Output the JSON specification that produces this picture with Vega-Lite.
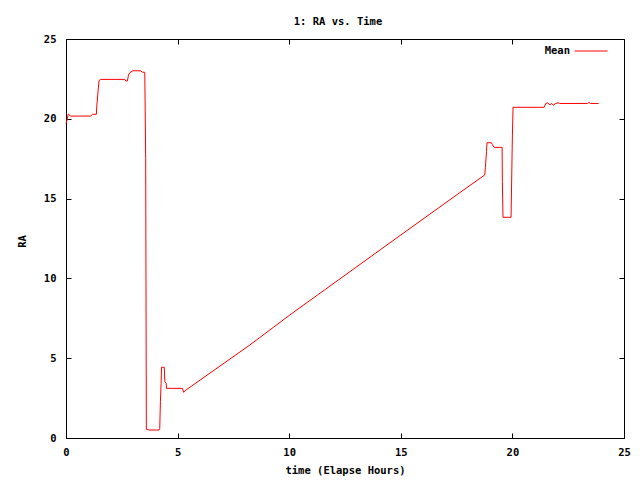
{
  "$schema": "https://vega.github.io/schema/vega-lite/v6.json",
  "width": 558,
  "height": 399,
  "autosize": {"type": "none"},
  "padding": {"left": 66, "top": 39, "right": 16, "bottom": 42},
  "background": "white",
  "title": {"text": "1: RA vs. Time", "font": "DejaVu Sans Mono", "fontSize": 10.5, "fontWeight": "bold", "color": "black", "anchor": "middle", "offset": 7, "dx": -7},
  "config": {
    "view": {"stroke": "black", "strokeWidth": 1},
    "axis": {"grid": false, "domain": false, "tickColor": "black", "labelColor": "black", "titleColor": "black", "labelFont": "DejaVu Sans Mono", "titleFont": "DejaVu Sans Mono", "labelFontSize": 10.5, "titleFontSize": 10.5, "labelFontWeight": "bold", "titleFontWeight": "bold", "tickSize": 5, "offset": -5},
    "legend": {"labelFont": "DejaVu Sans Mono", "labelFontSize": 10.5, "labelFontWeight": "bold", "labelColor": "black"}
  },
  "data": {"values": [
    {"t": 0, "ra": 19.7, "series": "Mean"},
    {"t": 0.06, "ra": 20.0, "series": "Mean"},
    {"t": 0.1, "ra": 20.3, "series": "Mean"},
    {"t": 0.21, "ra": 20.17, "series": "Mean"},
    {"t": 1.1, "ra": 20.17, "series": "Mean"},
    {"t": 1.18, "ra": 20.28, "series": "Mean"},
    {"t": 1.36, "ra": 20.28, "series": "Mean"},
    {"t": 1.38, "ra": 20.8, "series": "Mean"},
    {"t": 1.44, "ra": 21.8, "series": "Mean"},
    {"t": 1.48, "ra": 22.39, "series": "Mean"},
    {"t": 1.56, "ra": 22.47, "series": "Mean"},
    {"t": 2.63, "ra": 22.47, "series": "Mean"},
    {"t": 2.68, "ra": 22.37, "series": "Mean"},
    {"t": 2.75, "ra": 22.37, "series": "Mean"},
    {"t": 2.8, "ra": 22.74, "series": "Mean"},
    {"t": 2.86, "ra": 22.89, "series": "Mean"},
    {"t": 3.0, "ra": 23.01, "series": "Mean"},
    {"t": 3.35, "ra": 23.01, "series": "Mean"},
    {"t": 3.4, "ra": 22.93, "series": "Mean"},
    {"t": 3.53, "ra": 22.91, "series": "Mean"},
    {"t": 3.57, "ra": 17.5, "series": "Mean"},
    {"t": 3.6, "ra": 0.54, "series": "Mean"},
    {"t": 3.73, "ra": 0.5, "series": "Mean"},
    {"t": 4.17, "ra": 0.5, "series": "Mean"},
    {"t": 4.2, "ra": 0.6, "series": "Mean"},
    {"t": 4.23, "ra": 2.27, "series": "Mean"},
    {"t": 4.26, "ra": 3.4, "series": "Mean"},
    {"t": 4.28, "ra": 4.43, "series": "Mean"},
    {"t": 4.4, "ra": 4.43, "series": "Mean"},
    {"t": 4.43, "ra": 3.53, "series": "Mean"},
    {"t": 4.49, "ra": 3.43, "series": "Mean"},
    {"t": 4.5, "ra": 3.11, "series": "Mean"},
    {"t": 5.22, "ra": 3.11, "series": "Mean"},
    {"t": 5.27, "ra": 2.86, "series": "Mean"},
    {"t": 5.37, "ra": 3.0, "series": "Mean"},
    {"t": 8.21, "ra": 5.8, "series": "Mean"},
    {"t": 10.0, "ra": 7.68, "series": "Mean"},
    {"t": 15.0, "ra": 12.72, "series": "Mean"},
    {"t": 17.64, "ra": 15.37, "series": "Mean"},
    {"t": 18.76, "ra": 16.48, "series": "Mean"},
    {"t": 18.79, "ra": 16.96, "series": "Mean"},
    {"t": 18.84, "ra": 17.94, "series": "Mean"},
    {"t": 18.86, "ra": 18.5, "series": "Mean"},
    {"t": 19.06, "ra": 18.5, "series": "Mean"},
    {"t": 19.1, "ra": 18.4, "series": "Mean"},
    {"t": 19.18, "ra": 18.21, "series": "Mean"},
    {"t": 19.54, "ra": 18.21, "series": "Mean"},
    {"t": 19.55, "ra": 16.06, "series": "Mean"},
    {"t": 19.58, "ra": 13.83, "series": "Mean"},
    {"t": 19.94, "ra": 13.83, "series": "Mean"},
    {"t": 19.96, "ra": 15.54, "series": "Mean"},
    {"t": 20.0, "ra": 18.98, "series": "Mean"},
    {"t": 20.03, "ra": 20.72, "series": "Mean"},
    {"t": 21.42, "ra": 20.72, "series": "Mean"},
    {"t": 21.5, "ra": 20.97, "series": "Mean"},
    {"t": 21.58, "ra": 21.0, "series": "Mean"},
    {"t": 21.68, "ra": 20.86, "series": "Mean"},
    {"t": 21.75, "ra": 20.97, "series": "Mean"},
    {"t": 21.83, "ra": 20.86, "series": "Mean"},
    {"t": 21.95, "ra": 20.97, "series": "Mean"},
    {"t": 22.05, "ra": 21.0, "series": "Mean"},
    {"t": 22.13, "ra": 20.96, "series": "Mean"},
    {"t": 23.37, "ra": 20.96, "series": "Mean"},
    {"t": 23.43, "ra": 21.03, "series": "Mean"},
    {"t": 23.5, "ra": 20.96, "series": "Mean"},
    {"t": 23.86, "ra": 20.96, "series": "Mean"}
  ]},
  "layer": [
    {
      "mark": {"type": "line", "strokeWidth": 1, "interpolate": "linear"},
      "encoding": {
        "x": {"field": "t", "type": "quantitative", "scale": {"domain": [0, 25], "nice": false, "zero": false},
              "axis": {"title": "time (Elapse Hours)", "values": [0, 5, 10, 15, 20, 25], "labelPadding": 9, "titleY": 37, "titleBaseline": "middle", "labelFlush": false}},
        "y": {"field": "ra", "type": "quantitative", "scale": {"domain": [0, 25], "nice": false, "zero": false},
              "axis": {"title": "RA", "values": [0, 5, 10, 15, 20, 25], "labelPadding": 10, "titleX": -49, "titleY": 202, "titleAlign": "center", "titleBaseline": "middle", "labelFlush": false}},
        "color": {"field": "series", "type": "nominal", "scale": {"range": ["#ff0000"]},
                  "legend": {"title": null, "orient": "none", "legendX": 508, "legendY": -5, "symbolType": "stroke", "symbolSize": 1089, "symbolStrokeWidth": 1, "labelAlign": "right", "labelOffset": -38, "padding": 0}}
      }
    },
    {
      "mark": {"type": "line", "opacity": 0},
      "encoding": {
        "x": {"field": "t", "type": "quantitative", "axis": {"orient": "top", "values": [0, 5, 10, 15, 20, 25], "labels": false, "title": null}},
        "y": {"field": "ra", "type": "quantitative", "axis": {"orient": "right", "values": [0, 5, 10, 15, 20, 25], "labels": false, "title": null}}
      }
    }
  ],
  "resolve": {"axis": {"x": "independent", "y": "independent"}}
}
